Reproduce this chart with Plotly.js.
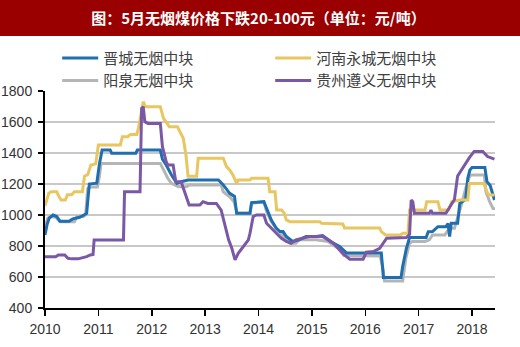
<!DOCTYPE html>
<html>
<head>
<meta charset="utf-8">
<script src="https://cdn.plot.ly/plotly-3.0.1.min.js"></script>
<style>html,body{margin:0;padding:0;background:#fff;}#chart{width:520px;height:347px;}</style>
</head>
<body>
<div id="chart"></div>
<script>
// Series names
const seriesNames = ["晋城无烟中块", "河南永城无烟中块", "阳泉无烟中块", "贵州遵义无烟中块"];
const yearTicks = [2010, 2011, 2012, 2013, 2014, 2015, 2016, 2017, 2018];
const yearLabels = ["2010", "2011", "2012", "2013", "2014", "2015", "2016", "2017", "2018"];

// 晋城无烟中块 (blue)
const jcX = [2010.00, 2010.04, 2010.08, 2010.15, 2010.22, 2010.28, 2010.45, 2010.52, 2010.65, 2010.72, 2010.78, 2010.83, 2010.97, 2011.02, 2011.07, 2011.22, 2011.25, 2011.70, 2011.73, 2012.16, 2012.20, 2012.27, 2012.37, 2012.47, 2012.55, 2012.68, 2013.25, 2013.34, 2013.46, 2013.55, 2013.59, 2013.84, 2013.87, 2014.10, 2014.15, 2014.24, 2014.33, 2014.40, 2014.46, 2014.52, 2014.64, 2014.76, 2014.89, 2015.08, 2015.20, 2015.30, 2015.40, 2015.52, 2015.65, 2016.30, 2016.34, 2016.67, 2016.70, 2016.77, 2016.83, 2017.14, 2017.18, 2017.26, 2017.36, 2017.51, 2017.55, 2017.58, 2017.61, 2017.73, 2017.77, 2017.88, 2017.92, 2017.96, 2018.00, 2018.24, 2018.28, 2018.34, 2018.42];
const jcY = [871, 940, 980, 1000, 990, 960, 960, 975, 985, 1000, 1010, 1200, 1205, 1330, 1420, 1420, 1398, 1398, 1419, 1419, 1360, 1323, 1258, 1204, 1215, 1226, 1226, 1194, 1140, 1120, 1011, 1011, 1080, 1086, 1043, 968, 916, 893, 893, 861, 829, 840, 861, 861, 867, 840, 818, 797, 755, 755, 597, 597, 667, 784, 855, 855, 892, 893, 925, 925, 945, 861, 947, 947, 1075, 1100, 1237, 1290, 1306, 1306, 1215, 1190, 1097];

// 河南永城无烟中块 (yellow)
const hnX = [2010.00, 2010.03, 2010.07, 2010.12, 2010.22, 2010.26, 2010.30, 2010.38, 2010.42, 2010.50, 2010.55, 2010.70, 2010.74, 2010.80, 2010.86, 2010.95, 2011.00, 2011.41, 2011.45, 2011.55, 2011.60, 2011.72, 2011.75, 2011.80, 2011.84, 2011.88, 2012.16, 2012.22, 2012.33, 2012.48, 2012.53, 2012.59, 2012.64, 2012.68, 2012.84, 2012.87, 2013.34, 2013.40, 2013.46, 2013.52, 2013.59, 2013.62, 2013.84, 2013.87, 2014.18, 2014.21, 2014.31, 2014.34, 2014.43, 2014.48, 2014.52, 2014.59, 2015.15, 2015.18, 2015.58, 2015.61, 2016.27, 2016.30, 2016.38, 2016.66, 2016.70, 2016.80, 2016.83, 2017.12, 2017.15, 2017.36, 2017.40, 2017.56, 2017.62, 2017.76, 2017.92, 2017.95, 2018.22, 2018.28, 2018.32, 2018.42];
const hnY = [1060, 1100, 1140, 1150, 1150, 1120, 1097, 1097, 1130, 1130, 1150, 1150, 1250, 1260, 1323, 1330, 1452, 1452, 1505, 1505, 1520, 1520, 1560, 1650, 1731, 1699, 1699, 1624, 1570, 1570, 1538, 1495, 1387, 1250, 1250, 1366, 1366, 1312, 1290, 1258, 1204, 1226, 1226, 1237, 1237, 1150, 1150, 1032, 1032, 1013, 968, 957, 957, 947, 942, 916, 916, 893, 871, 871, 882, 882, 1032, 1032, 1086, 1086, 1032, 1032, 1086, 1097, 1097, 1204, 1204, 1150, 1129, 1129];

// 阳泉无烟中块 (gray)
const yqX = [2010.00, 2010.05, 2010.10, 2010.20, 2010.28, 2010.55, 2010.60, 2010.72, 2010.76, 2010.80, 2010.85, 2010.98, 2011.02, 2011.05, 2012.16, 2012.22, 2012.30, 2012.37, 2012.50, 2012.65, 2012.70, 2013.30, 2013.34, 2013.46, 2013.54, 2013.60, 2013.84, 2013.87, 2014.10, 2014.15, 2014.24, 2014.33, 2014.45, 2014.59, 2014.70, 2014.76, 2015.08, 2015.30, 2015.49, 2015.60, 2016.28, 2016.33, 2016.36, 2016.70, 2016.76, 2016.83, 2016.88, 2017.12, 2017.20, 2017.26, 2017.49, 2017.58, 2017.67, 2017.73, 2017.80, 2017.88, 2017.95, 2017.98, 2018.23, 2018.26, 2018.33, 2018.40, 2018.42];
const yqY = [916, 979, 990, 985, 957, 957, 990, 990, 1000, 1170, 1180, 1180, 1250, 1333, 1333, 1290, 1237, 1204, 1183, 1183, 1194, 1194, 1150, 1118, 1086, 1011, 1011, 1075, 1086, 1022, 957, 916, 871, 818, 818, 840, 840, 829, 785, 738, 735, 656, 574, 574, 721, 818, 829, 829, 840, 871, 871, 914, 914, 979, 1065, 1172, 1247, 1258, 1258, 1150, 1086, 1037, 1050];

// 贵州遵义无烟中块 (purple)
const gzX = [2010.00, 2010.20, 2010.25, 2010.37, 2010.43, 2010.50, 2010.62, 2010.70, 2010.78, 2010.85, 2010.90, 2010.92, 2011.47, 2011.49, 2011.78, 2011.81, 2011.84, 2011.87, 2011.93, 2012.16, 2012.20, 2012.27, 2012.30, 2012.40, 2012.45, 2012.55, 2012.59, 2012.65, 2012.70, 2012.90, 2012.96, 2013.05, 2013.21, 2013.30, 2013.38, 2013.44, 2013.50, 2013.56, 2013.62, 2013.71, 2013.81, 2013.84, 2013.90, 2013.96, 2014.10, 2014.15, 2014.24, 2014.34, 2014.43, 2014.52, 2014.61, 2014.70, 2014.83, 2014.95, 2015.20, 2015.30, 2015.40, 2015.52, 2015.61, 2015.71, 2015.96, 2016.02, 2016.15, 2016.27, 2016.33, 2016.40, 2016.77, 2016.83, 2016.86, 2016.89, 2016.92, 2017.20, 2017.23, 2017.26, 2017.51, 2017.55, 2017.60, 2017.67, 2017.73, 2017.83, 2017.88, 2017.95, 2018.04, 2018.20, 2018.29, 2018.36, 2018.42];
const gzY = [731, 731, 742, 742, 721, 717, 717, 722, 731, 742, 745, 839, 839, 1150, 1150, 1688, 1699, 1602, 1591, 1591, 1441, 1344, 1323, 1323, 1215, 1215, 1172, 1108, 1065, 1065, 1086, 1075, 1075, 1032, 916, 840, 785, 710, 753, 796, 840, 882, 990, 1000, 1000, 947, 916, 882, 850, 829, 818, 840, 850, 861, 861, 840, 818, 775, 742, 715, 715, 760, 764, 785, 818, 850, 855, 875, 1097, 1086, 1011, 1011, 1032, 1011, 1011, 1032, 1065, 1100, 1252, 1306, 1339, 1370, 1410, 1410, 1377, 1365, 1360];

const colors = {jc: "#1f6eb0", hn: "#e8c660", yq: "#b5b5b5", gz: "#7b58a6"};

function tr(x, y, name, color, rank) {
  return {x: x, y: y, name: name, type: "scatter", mode: "lines",
          line: {color: color, width: 3}, legendrank: rank, hoverinfo: "skip"};
}

const data = [
  tr(yqX, yqY, seriesNames[2], colors.yq, 3),
  tr(jcX, jcY, seriesNames[0], colors.jc, 1),
  tr(hnX, hnY, seriesNames[1], colors.hn, 2),
  tr(gzX, gzY, seriesNames[3], colors.gz, 4)
];

const tickFont = {family: "Liberation Sans, Arial, sans-serif", size: 14, color: "#333333"};

const layout = {
  width: 520, height: 347,
  margin: {l: 45, r: 25, t: 91, b: 39, pad: 0, autoexpand: false},
  paper_bgcolor: "#ffffff", plot_bgcolor: "#ffffff",
  showlegend: true,
  title: {
    text: "<b>图：5月无烟煤价格下跌20-100元（单位：元/吨）</b>",
    font: {family: "Noto Sans CJK SC, sans-serif", size: 15, color: "#ffffff"},
    x: 0.497, xref: "container", xanchor: "center",
    y: 0.946, yref: "container", yanchor: "middle"
  },
  shapes: [{
    type: "rect", xref: "paper", yref: "paper", layer: "below",
    x0: -0.2, x1: 1.2, y0: 1.2535, y1: 1.6,
    fillcolor: "#9a0000", line: {width: 0}
  }],
  legend: {
    orientation: "h",
    xref: "container", yref: "container",
    x: 0.110, xanchor: "left",
    y: 0.880, yanchor: "top",
    entrywidth: 162, entrywidthmode: "pixels",
    itemwidth: 36,
    font: {family: "Noto Sans CJK SC, sans-serif", size: 15, color: "#404040"},
    bgcolor: "rgba(0,0,0,0)", borderwidth: 0,
    traceorder: "normal"
  },
  xaxis: {
    type: "linear", range: [2010, 2018.43],
    tickmode: "array", tickvals: yearTicks, ticktext: yearLabels,
    ticks: "outside", ticklen: 6, tickwidth: 1.5, tickcolor: "#000",
    showline: true, linecolor: "#000", linewidth: 2,
    showgrid: false, zeroline: false,
    tickfont: tickFont, ticklabelstandoff: 1
  },
  yaxis: {
    range: [400, 1800],
    tickmode: "array", tickvals: [400, 600, 800, 1000, 1200, 1400, 1600, 1800],
    ticks: "outside", ticklen: 5, tickwidth: 1.5, tickcolor: "#000",
    showline: true, linecolor: "#000", linewidth: 2,
    showgrid: true, gridcolor: "#c8c8c8", gridwidth: 1.5,
    zeroline: false,
    tickfont: tickFont, ticklabelstandoff: 3
  }
};

Plotly.newPlot("chart", data, layout, {staticPlot: true, displayModeBar: false});
</script>
</body>
</html>
